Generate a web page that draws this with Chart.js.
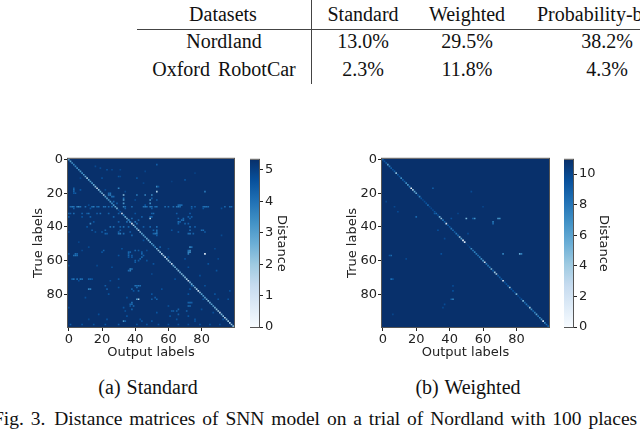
<!DOCTYPE html>
<html lang="en">
<head>
  <meta charset="UTF-8">
  <title>Distance matrices</title>
  <script src="https://cdn.jsdelivr.net/npm/chart.js"></script>
  <style>
    * { box-sizing: border-box; margin: 0; padding: 0; }
    html { background: #fff; }
    body { width: 640px; height: 430px; overflow: hidden; background: #fff; position: relative; font-family: 'Liberation Serif', serif; color: #111; filter: blur(0.4px); }
    .t { position: absolute; font-size: 20px; line-height: 24px; white-space: nowrap; transform: translateX(-50%); }
    .l { position: absolute; white-space: nowrap; font-size: 20px; line-height: 24px; }
    .rule { position: absolute; background: #444; }
    canvas { position: absolute; }
  </style>
</head>
<body>
  <div class="t" style="left:223px;top:2px">Datasets</div>
  <div class="t" style="left:363px;top:2px">Standard</div>
  <div class="t" style="left:467px;top:2px">Weighted</div>
  <div class="l" style="left:537px;top:2px">Probability-b</div>
  <div class="rule" style="left:137px;top:29px;width:503px;height:1px"></div>
  <div class="rule" style="left:311px;top:0;width:1px;height:84px"></div>
  <div class="t" style="left:224px;top:29px">Nordland</div>
  <div class="t" style="left:363px;top:29px">13.0%</div>
  <div class="t" style="left:467px;top:29px">29.5%</div>
  <div class="t" style="left:607px;top:29px">38.2%</div>
  <div class="t" style="left:224px;top:57px;word-spacing:3px">Oxford RobotCar</div>
  <div class="t" style="left:363px;top:57px">2.3%</div>
  <div class="t" style="left:467px;top:57px">11.8%</div>
  <div class="t" style="left:607px;top:57px">4.3%</div>

  <canvas id="heatA" width="207" height="215" style="left:31px;top:150px"></canvas>
  <canvas id="barA" width="45" height="215" style="left:250px;top:150px"></canvas>
  <canvas id="heatB" width="208" height="215" style="left:345px;top:150px"></canvas>
  <canvas id="barB" width="53" height="215" style="left:564px;top:150px"></canvas>

  <div class="t" style="left:148px;top:375px;word-spacing:1px">(a) Standard</div>
  <div class="t" style="left:468px;top:375px;word-spacing:1px">(b) Weighted</div>
  <div class="l" style="left:-7px;top:407px;font-size:19.5px;word-spacing:2px">Fig. 3. <span style="margin-left:2px">Distance matrices of SNN model on a trial of Nordland with 100 places</span></div>

  <script>
    // tick labels
    var matrixTicks = [0, 20, 40, 60, 80];
    var standardBarTicks = [0, 1, 2, 3, 4, 5];
    var weightedBarTicks = [0, 2, 4, 6, 8, 10];

    // top of each colour bar
    var standardMax = 5.32;
    var weightedMax = 10.93;

    // distance on the diagonal, place 0 to 99
    var standardDiagonal = [
      3.2, 2.9, 3.3, 3.6, 3.6, 3.4, 3.3, 3.1, 3.4, 3.1,
      2.7, 1.9, 2.9, 3.0, 3.2, 2.7, 2.3, 1.3, 2.3, 2.8,
      2.5, 1.7, 3.0, 2.9, 3.2, 3.2, 3.4, 3.2, 2.8, 2.5,
      4.8, 4.5, 1.0, 3.6, 2.7, 2.5, 2.9, 2.3, 0.8, 2.0,
      2.9, 2.7, 1.5, 2.3, 2.9, 2.9, 3.0, 2.7, 2.5, 2.7,
      3.1, 3.2, 3.7, 2.5, 2.0, 2.3, 1.5, 2.2, 1.3, 2.2,
      2.0, 2.5, 1.3, 2.7, 2.5, 2.7, 2.2, 2.7, 2.3, 2.5,
      2.3, 2.0, 1.0, 2.7, 2.7, 2.9, 2.3, 2.0, 1.2, 2.3,
      3.0, 3.2, 2.9, 2.7, 2.3, 2.7, 2.9, 2.9, 2.5, 2.3,
      2.0, 1.5, 2.5, 2.3, 1.5, 2.3, 2.0, 1.6, 2.0, 2.3
    ];
    var weightedDiagonal = [
      9.0, 9.5, 9.0, 6.0, 8.0, 9.0, 9.5, 9.0, 4.5, 9.0,
      9.5, 7.0, 9.0, 9.0, 7.0, 6.5, 8.0, 0.8, 4.0, 6.0,
      5.5, 9.5, 7.5, 9.5, 10.0, 9.8, 9.5, 8.5, 10.0, 10.0,
      10.0, 9.5, 8.5, 9.8, 5.5, 4.5, 8.0, 9.0, 2.0, 9.0,
      9.5, 8.0, 8.5, 9.0, 8.0, 8.5, 4.0, 6.0, 0.8, 1.5,
      10.4, 10.4, 10.0, 7.0, 8.0, 7.5, 8.0, 8.0, 8.0, 7.0,
      6.0, 2.0, 8.0, 8.0, 8.0, 5.0, 9.0, 4.0, 3.5, 9.0,
      9.0, 9.0, 1.5, 9.5, 9.5, 9.0, 4.0, 9.5, 9.5, 9.5,
      5.0, 10.0, 10.0, 9.0, 5.0, 8.5, 8.0, 8.5, 4.0, 7.0,
      8.5, 7.5, 6.0, 8.0, 7.0, 6.5, 2.0, 7.5, 8.5, 9.0
    ];

    // off-diagonal cells: [true label, output label, distance]
    var standardHits = [
      [3,53,4.4],[4,16,4.8],[5,19,4.8],[6,23,4.6],[6,26,4.8],[6,31,4.9],[7,46,4.9],[8,76,5.0],
      [10,30,4.6],[10,31,4.8],[11,20,4.7],[11,41,4.6],[11,7,4.9],[12,70,4.6],[13,62,5.0],[14,45,4.9],
      [16,53,3.4],[16,54,4.6],[17,30,3.6],[17,3,4.3],[18,3,4.1],[18,7,4.6],[18,22,4.8],[19,3,4.3],[19,53,1.8],[19,82,3.8],[19,34,4.8],
      [20,3,4.6],[20,4,4.4],[20,24,4.2],[20,25,4.0],[21,33,2.2],[21,41,3.8],[21,46,3.6],[21,50,3.4],[21,24,3.8],[21,25,3.6],
      [22,26,4.0],[22,27,4.2],[23,33,4.0],[23,50,4.4],[24,33,3.0],[24,49,3.2],[24,53,4.4],[24,40,4.7],[25,27,4.2],[26,33,3.2],[26,49,3.4],[26,29,4.4],
      [27,66,4.2],[27,67,4.0],[27,68,4.2],[27,46,4.6],[27,12,4.8],
      [28,1,4.2],[28,2,3.8],[28,3,4.0],[28,5,3.8],[28,6,3.5],[28,7,4.0],[28,10,4.1],[28,14,4.0],[28,15,3.8],[28,17,4.2],[28,18,4.1],[28,21,4.0],[28,22,4.0],[28,24,4.2],[28,26,4.1],[28,33,3.5],[28,34,4.1],[28,38,4.1],[28,45,4.0],[28,46,3.8],[28,47,4.1],[28,49,3.8],[28,50,4.0],[28,52,4.1],[28,53,4.0],[28,58,4.1],[28,60,4.2],[28,63,4.1],[28,65,4.0],[28,66,3.8],[28,67,4.1],[28,74,4.2],[28,76,4.4],[28,81,4.1],[28,82,3.8],[28,83,4.0],[28,84,4.1],[28,94,4.2],[28,97,4.1],[28,98,4.2],
      [29,3,4.4],[29,13,4.6],[29,34,4.4],[29,50,4.4],[29,74,4.6],[29,81,4.6],[29,92,4.7],
      [32,0,4.3],[32,1,4.4],[32,3,4.1],[32,8,4.3],[32,11,4.4],[32,12,4.1],[32,17,4.4],[32,19,4.1],[32,24,4.3],[32,30,4.3],[32,40,4.6],[32,50,4.3],[32,51,4.1],[32,65,4.4],[32,73,4.4],
      [34,0,4.6],[34,8,4.6],[34,13,4.4],[34,27,4.3],[34,44,4.4],[34,49,4.4],[34,50,4.3],[34,72,4.4],[34,74,4.4],
      [35,49,1.8],[35,66,4.3],[35,69,4.2],[35,73,4.4],[35,38,4.1],[36,36,3.9],[36,68,4.2],[36,69,4.0],[36,42,4.4],[37,15,4.6],[37,30,4.4],[37,66,4.0],[37,67,4.3],[37,35,4.1],[37,37,3.8],[37,40,3.9],
      [38,13,3.6],[38,41,4.1],[38,66,4.3],[38,70,4.3],[38,72,4.4],
      [40,11,4.6],[40,25,4.1],[40,27,4.1],[40,31,4.3],[40,33,4.1],[40,36,4.3],[40,45,4.4],[40,49,4.3],[40,53,4.1],[40,73,4.1],[40,76,4.4],
      [42,14,4.4],[42,22,4.3],[42,31,4.4],[42,51,4.3],[42,53,4.1],[42,62,4.6],[42,73,4.1],[42,80,4.1],[42,81,4.1],
      [43,0,4.7],[43,16,4.6],[43,20,4.4],[43,30,4.3],[43,37,4.4],[43,53,3.9],[43,66,4.4],[43,82,4.4],
      [44,22,4.3],[44,23,4.4],[44,30,3.9],[44,31,3.7],[44,33,4.1],[44,51,4.3],[44,52,3.9],[44,53,3.9],[44,72,4.1],[44,73,3.9],[44,75,4.3],[45,38,4.3],[45,53,4.4],[45,92,4.8],
      [48,45,4.7],[49,6,4.9],
      [52,12,4.8],[52,55,4.3],[52,73,3.4],[52,74,4.1],[53,32,4.6],[53,60,4.8],[53,88,4.8],[54,8,4.8],[54,21,4.3],[54,40,4.2],[54,42,4.4],[54,47,4.7],[54,73,3.4],[54,72,4.1],
      [55,36,4.2],[55,37,4.3],[55,44,4.4],[55,72,3.6],[55,73,3.4],[55,20,4.6],[56,4,4.1],[56,5,4.3],[56,36,4.3],[56,82,0.5],[56,44,4.2],[56,72,3.8],[56,0,4.6],
      [57,3,4.1],[57,4,3.9],[57,5,4.1],[57,38,4.4],[57,30,4.6],[57,36,4.2],[57,45,4.3],[58,44,4.2],[58,36,4.5],[58,38,4.5],[58,60,4.7],[59,43,4.3],[59,70,4.7],[59,90,4.8],
      [60,40,4.3],[60,42,4.4],[60,47,4.6],[61,40,4.4],[62,84,4.6],[62,51,4.6],[63,0,4.8],[63,17,4.8],[64,26,4.7],[64,72,4.7],
      [65,38,4.0],[65,37,3.6],[66,37,3.8],[66,36,4.1],[66,89,4.6],[68,50,4.8],[69,79,4.7],
      [71,2,4.3],[71,3,4.0],[71,5,4.1],[71,7,4.0],[71,8,4.1],[71,12,4.3],[71,13,4.4],[71,30,4.6],[71,14,4.6],[71,64,4.7],[72,6,4.7],[72,25,4.7],
      [75,40,4.0],[75,42,3.9],[75,43,4.1],[75,41,4.1],[75,22,4.4],[75,74,4.4],[75,82,4.6],[76,41,4.1],[76,30,4.6],
      [77,12,3.6],[77,13,3.8],[77,23,4.4],[77,38,4.3],[77,73,4.6],[77,56,4.7],[78,42,4.3],[78,39,4.6],[78,97,4.7],
      [80,24,4.6],[80,50,4.6],[80,72,4.6],[80,88,4.6],[82,10,4.7],[82,35,4.6],[82,52,4.4],[83,42,1.8],[83,41,3.2],[83,50,4.4],[83,53,4.3],[83,81,4.6],[83,90,4.6],[83,96,4.6],
      [85,38,4.0],[85,73,4.1],[85,72,4.3],[85,74,4.4],[86,38,4.1],[86,37,4.3],[87,39,4.1],[87,37,4.4],[87,72,4.1],[87,73,4.1],[87,60,4.6],[88,0,4.8],[88,33,4.6],
      [89,38,4.3],[89,80,4.7],[89,66,4.3],[90,62,4.4],[90,63,4.3],[90,65,4.3],[90,71,4.3],[90,34,4.6],[91,53,4.6],[91,87,4.7],
      [92,18,4.7],[92,66,4.4],[93,35,4.6],[93,61,4.6],[93,72,4.6],
      [95,12,4.8],[95,23,4.6],[95,43,4.7],[95,65,4.6],[95,76,4.6],[95,93,4.6],
      [96,33,3.2],[96,34,4.3],[96,50,4.6],[96,44,4.6],[96,76,4.7],
      [98,1,4.4],[98,8,4.6],[98,15,4.6],[98,22,4.6],[98,30,4.4],[98,41,4.6],[98,47,4.6],[98,54,4.6],[98,60,4.6],[98,66,4.6],[98,72,4.7],[98,79,4.6],[98,85,4.6],[98,91,4.7]
    ];
    var weightedHits = [
      [17,30,9.0],[19,53,9.8],[25,2,10.0],[28,7,9.9],[28,60,10.0],[31,9,9.8],[32,31,9.2],[32,45,10.0],
      [34,20,8.6],[35,50,5.0],[35,55,6.8],[35,54,8.8],[35,69,6.6],[35,70,7.0],[35,41,9.6],
      [37,66,7.8],[38,66,8.6],[42,33,9.6],[44,51,9.8],[47,37,9.8],
      [56,72,7.4],[56,82,5.6],[56,83,7.6],[56,35,9.6],[57,5,8.4],[57,4,9.4],[59,14,9.9],
      [71,5,8.4],[71,6,9.4],[75,42,9.8],[78,42,9.6],[83,42,7.4],[83,41,9.0],[86,37,9.8],[88,36,9.9],[92,6,10.0]
    ];

    // matplotlib "Blues"
    var blues = ['#f7fbff', '#deebf7', '#c6dbef', '#9ecae1', '#6baed6', '#4292c6', '#2171b5', '#08519c', '#08306b'];

    function hexToRgb(h) {
      return [parseInt(h.slice(1, 3), 16), parseInt(h.slice(3, 5), 16), parseInt(h.slice(5, 7), 16)];
    }
    function bluesColor(t) {
      var p = Math.min(Math.max(t, 0), 1) * (blues.length - 1);
      var i = Math.min(Math.floor(p), blues.length - 2);
      var a = hexToRgb(blues[i]), b = hexToRgb(blues[i + 1]), f = p - i;
      return 'rgb(' + [0, 1, 2].map(k => Math.round(a[k] + (b[k] - a[k]) * f)).join(',') + ')';
    }

    var tickFont = { family: "'DejaVu Sans'", size: 13 };
    var inkColor = '#222';

    // dark base of the matrix + frame round the axes
    var framePlugin = {
      id: 'frame',
      beforeDatasetsDraw(chart, args, opts) {
        if (!opts.fill) return;
        var a = chart.chartArea;
        chart.ctx.fillStyle = opts.fill;
        chart.ctx.fillRect(a.left, a.top, a.width, a.height);
      },
      afterDraw(chart) {
        var a = chart.chartArea, c = chart.ctx;
        c.save();
        c.strokeStyle = '#555';
        c.lineWidth = 1;
        c.strokeRect(a.left - 0.5, a.top - 0.5, a.width + 1, a.height + 1);
        c.restore();
      }
    };

    function fixedTicks(list) {
      return function (scale) { scale.ticks = list.map(v => ({ value: v })); };
    }

    function matrixAxis(position, titleText, extra) {
      return Object.assign({
        type: 'linear', position: position, min: -0.5, max: 99.5,
        afterBuildTicks: fixedTicks(matrixTicks),
        grid: { drawOnChartArea: false, drawTicks: true, tickLength: 4, color: inkColor },
        border: { display: false },
        ticks: { font: tickFont, color: inkColor, padding: 1, maxRotation: 0, autoSkip: false },
        title: { display: true, text: titleText, font: tickFont, color: inkColor, padding: 0 }
      }, extra);
    }

    function drawMatrix(id, diagonal, hits, maxValue) {
      var cells = diagonal.map((v, i) => ({ x: i, y: i, v: v }));
      hits.forEach(h => cells.push({ x: h[1], y: h[0], v: h[2] }));
      new Chart(document.getElementById(id), {
        type: 'scatter',
        data: { datasets: [{
          data: cells,
          pointStyle: 'rect',
          pointBorderWidth: 0,
          pointRadius: ctx => ctx.chart.chartArea ? ctx.chart.chartArea.width / 100 * Math.SQRT1_2 : 1.2,
          pointBackgroundColor: cells.map(c => bluesColor(c.v / maxValue))
        }] },
        options: {
          responsive: false, animation: false, events: [],
          layout: { padding: { top: 8, left: 0, right: 1, bottom: 5 } },
          plugins: { legend: { display: false }, tooltip: { enabled: false }, frame: { fill: blues[8] } },
          scales: {
            x: matrixAxis('bottom', 'Output labels', { afterFit: s => { s.height = 33; } }),
            y: matrixAxis('left', 'True labels', { reverse: true, afterFit: s => { s.width = 37; } })
          }
        },
        plugins: [framePlugin]
      });
    }

    function drawColorbar(id, maxValue, tickList, axisWidth) {
      new Chart(document.getElementById(id), {
        type: 'bar',
        data: { labels: ['Distance'], datasets: [{
          data: [[0, maxValue]],
          barPercentage: 1, categoryPercentage: 1, borderSkipped: false,
          backgroundColor: function (ctx) {
            var a = ctx.chart.chartArea;
            if (!a) return blues[8];
            var g = ctx.chart.ctx.createLinearGradient(0, a.bottom, 0, a.top);
            blues.forEach((c, i) => g.addColorStop(i / (blues.length - 1), c));
            return g;
          }
        }] },
        options: {
          responsive: false, animation: false, events: [],
          layout: { padding: { top: 8, left: 0, right: 0, bottom: 38 } },
          plugins: { legend: { display: false }, tooltip: { enabled: false }, frame: {} },
          scales: {
            x: { display: false },
            y: {
              position: 'right', min: 0, max: maxValue,
              afterBuildTicks: fixedTicks(tickList),
              afterFit: s => { s.width = axisWidth; },
              grid: { drawOnChartArea: false, drawTicks: true, tickLength: 4, color: inkColor },
              border: { display: false },
              ticks: { font: tickFont, color: inkColor, padding: 2, autoSkip: false },
              title: { display: true, text: 'Distance', font: tickFont, color: inkColor, padding: { top: 6, bottom: 0 } }
            }
          }
        },
        plugins: [framePlugin]
      });
    }

    drawMatrix('heatA', standardDiagonal, standardHits, standardMax);
    drawMatrix('heatB', weightedDiagonal, weightedHits, weightedMax);
    drawColorbar('barA', standardMax, standardBarTicks, 36);
    drawColorbar('barB', weightedMax, weightedBarTicks, 44);
  </script>
</body>
</html>
